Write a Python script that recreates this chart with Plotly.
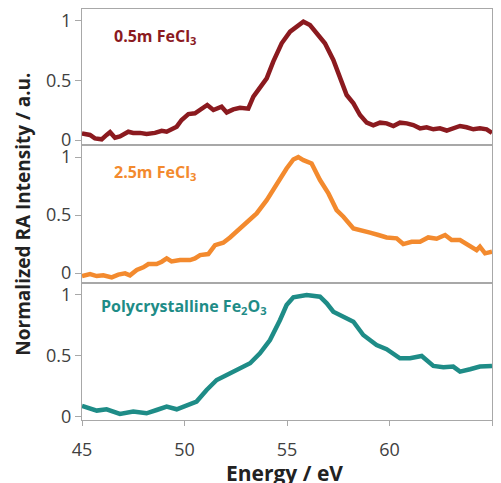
import plotly.graph_objects as go

# 0.5m FeCl3
e1 = [45.0, 45.39, 45.63, 45.96, 46.2, 46.37, 46.61, 46.85, 47.26, 47.5, 47.83, 48.15, 48.56, 48.89,
      49.13, 49.46, 49.62, 49.86, 50.19, 50.51, 50.84, 51.11, 51.41, 51.65, 51.81, 52.06, 52.38, 52.71,
      53.11, 53.36, 53.68, 54.01, 54.33, 54.74, 55.15, 55.47, 55.8, 56.12, 56.45, 56.85, 57.26, 57.59,
      57.91, 58.24, 58.56, 58.89, 59.21, 59.54, 59.86, 60.19, 60.51, 60.84, 61.16, 61.49, 61.81, 62.14,
      62.46, 62.79, 63.11, 63.44, 63.76, 64.09, 64.41, 64.74, 65.0]
i1 = [0.056, 0.043, 0.014, 0.006, 0.043, 0.066, 0.02, 0.03, 0.07, 0.06, 0.06, 0.05, 0.06, 0.078,
      0.07, 0.10, 0.112, 0.168, 0.218, 0.224, 0.266, 0.294, 0.252, 0.266, 0.28, 0.232, 0.257, 0.27,
      0.263, 0.364, 0.434, 0.518, 0.658, 0.812, 0.91, 0.952, 0.994, 0.966, 0.896, 0.812, 0.672, 0.518,
      0.378, 0.308, 0.21, 0.146, 0.123, 0.146, 0.14, 0.118, 0.146, 0.14, 0.126, 0.098, 0.107, 0.09,
      0.098, 0.08, 0.098, 0.118, 0.107, 0.09, 0.098, 0.09, 0.06]

# 2.5m FeCl3
e2 = [45.0, 45.39, 45.72, 46.04, 46.45, 46.77, 47.1, 47.34, 47.67, 47.99, 48.24, 48.64, 48.89, 49.13,
      49.37, 49.78, 50.27, 50.51, 50.76, 51.16, 51.49, 51.89, 52.22, 52.63, 53.03, 53.52, 54.01, 54.5,
      54.98, 55.31, 55.55, 55.8, 56.2, 56.61, 57.02, 57.42, 57.75, 58.24, 58.64, 59.05, 59.46, 59.86,
      60.35, 60.67, 61.08, 61.49, 61.89, 62.3, 62.71, 63.03, 63.44, 63.93, 64.25, 64.41, 64.66, 65.0]
i2 = [-0.026, -0.009, -0.026, -0.02, -0.037, -0.014, -0.003, -0.02, 0.026, 0.049, 0.078, 0.078, 0.098, 0.126,
      0.10, 0.112, 0.112, 0.126, 0.155, 0.164, 0.241, 0.261, 0.307, 0.371, 0.428, 0.514, 0.629, 0.773,
      0.902, 0.98, 1.0, 0.974, 0.945, 0.802, 0.687, 0.543, 0.486, 0.385, 0.371, 0.348, 0.328, 0.307,
      0.299, 0.25, 0.27, 0.27, 0.307, 0.296, 0.328, 0.284, 0.284, 0.227, 0.198, 0.227, 0.17, 0.184]

# Polycrystalline Fe2O3
e3 = [45.0, 45.31, 45.72, 46.2, 46.53, 46.85, 47.5, 48.15, 48.64, 49.13, 49.62, 50.11, 50.59, 51.08,
      51.57, 52.06, 52.71, 53.2, 53.68, 54.17, 54.66, 54.98, 55.31, 55.96, 56.61, 56.94, 57.26, 57.75,
      58.24, 58.72, 59.37, 59.86, 60.51, 61.0, 61.57, 62.14, 62.63, 63.11, 63.44, 63.93, 64.41, 65.0]
i3 = [0.09, 0.071, 0.052, 0.063, 0.044, 0.025, 0.044, 0.03, 0.057, 0.085, 0.063, 0.09, 0.126, 0.221,
      0.303, 0.344, 0.399, 0.44, 0.522, 0.631, 0.795, 0.918, 0.981, 1.0, 0.986, 0.932, 0.863, 0.822,
      0.781, 0.672, 0.59, 0.555, 0.481, 0.481, 0.5, 0.418, 0.407, 0.413, 0.372, 0.391, 0.413, 0.418]

labels = ["0.5m FeCl<sub>3</sub>", "2.5m FeCl<sub>3</sub>", "Polycrystalline Fe<sub>2</sub>O<sub>3</sub>"]
colors = ["#8b1a1f", "#f38a2e", "#1e8c87"]
x_ticks = [45, 50, 55, 60, 65]
y_ticks = [0, 0.5, 1]
y_tick_text = ["0", "0.5", "1"]

FONT = "Open Sans"
AX = "#a8a8a8"
TXT = "#404040"

fig = go.Figure()
series = [(e1, i1), (e2, i2), (e3, i3)]
axes = [("x", "y"), ("x2", "y2"), ("x3", "y3")]
for (ex, iy), c, (xa, ya) in zip(series, colors, axes):
    fig.add_trace(go.Scatter(x=ex, y=iy, mode="lines", line=dict(color=c, width=4.5),
                             xaxis=xa, yaxis=ya, showlegend=False, hoverinfo="skip"))

doms = [[0.669, 1.0], [0.3333, 0.669], [0.0, 0.3333]]
ranges = [[-0.042, 1.1], [-0.086, 1.104], [-0.025, 1.098]]

common_x = dict(range=[45, 65], showline=True, linecolor=AX, linewidth=1, mirror=True,
                showgrid=False, zeroline=False, tickvals=x_ticks, automargin=False)
common_y = dict(showline=True, linecolor=AX, linewidth=1, mirror=True, showgrid=False,
                zeroline=False, tickvals=y_ticks, ticktext=y_tick_text, ticks="outside",
                ticklen=6, tickcolor=AX, automargin=False,
                tickfont=dict(family=FONT, size=18, color=TXT))

layout = dict(width=501, height=483, margin=dict(l=82, r=9, t=9, b=63),
              plot_bgcolor="white", paper_bgcolor="white", font=dict(family=FONT))
names = ["", "2", "3"]
for k, n in enumerate(names):
    xa = dict(common_x)
    if k < 2:
        xa.update(showticklabels=False, ticks="", matches="x3", anchor="y" + n)
    else:
        xa.update(ticks="outside", ticklen=5, tickcolor=AX, ticklabelstandoff=8,
                  tickfont=dict(family=FONT, size=18, color=TXT), anchor="y3")
    ya = dict(common_y)
    ya.update(domain=doms[k], range=ranges[k], anchor="x" + n)
    layout["xaxis" + n] = xa
    layout["yaxis" + n] = ya

fig.update_layout(**layout)

ann_x = [0.073, 0.073, 0.042]
ann_y = [0.932, 0.601, 0.275]
for lab, c, xx, yy in zip(labels, colors, ann_x, ann_y):
    fig.add_annotation(text="<b>" + lab + "</b>", xref="paper", yref="paper", x=xx,
                       y=yy, xanchor="left", yanchor="middle", showarrow=False,
                       font=dict(family=FONT, size=16, color=c))

fig.add_annotation(text="<b>Normalized RA Intensity / a.u.</b>", xref="paper", yref="paper",
                   x=-0.146, y=0.5, textangle=-90, showarrow=False, xanchor="center", yanchor="middle",
                   font=dict(family=FONT, size=19, color="#222222"))
fig.add_annotation(text="<b>Energy / eV</b>", xref="paper", yref="paper",
                   x=0.495, y=-0.1295, showarrow=False, xanchor="center", yanchor="middle",
                   font=dict(family=FONT, size=21, color="#222222"))

fig.write_html("out.html", config={"displayModeBar": False},
               post_script="document.body.style.margin='0px';")
